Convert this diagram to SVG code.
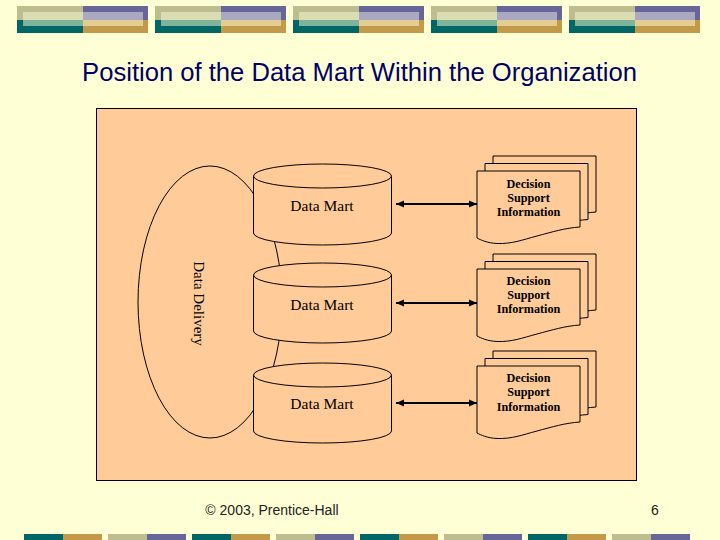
<svg xmlns="http://www.w3.org/2000/svg" width="720" height="540" viewBox="0 0 720 540">
<defs>
<style>
.title{font-family:"Liberation Sans",Arial,sans-serif;font-size:25.6px;fill:#000066}
.foot{font-family:"Liberation Sans",Arial,sans-serif;font-size:14px;fill:#222}
.lbl{font-family:"Liberation Serif","Times New Roman",serif;font-size:15.5px;fill:#000;text-anchor:middle}
.dsi{font-family:"Liberation Serif","Times New Roman",serif;font-size:12.2px;font-weight:bold;fill:#000;text-anchor:middle}
.shape{fill:#FFCC99;stroke:#000;stroke-width:1}
.conn{stroke:#000;stroke-width:2;fill:none;marker-start:url(#ah);marker-end:url(#ah)}
</style>
<marker id="ah" markerUnits="userSpaceOnUse" markerWidth="8" markerHeight="8" refX="8" refY="4" orient="auto-start-reverse">
<path d="M0,0.5 L8,4 L0,7.5 Z" fill="#000"/>
</marker>
<g id="hdr">
<rect x="0" y="6" width="66" height="14" fill="#BDBD8F"/>
<rect x="66" y="6" width="65" height="14" fill="#666699"/>
<rect x="0" y="20" width="66" height="13" fill="#006666"/>
<rect x="66" y="20" width="65" height="13" fill="#C29A4A"/>
<rect x="6" y="12" width="60" height="8" fill="#DADDB1"/>
<rect x="66" y="12" width="60" height="8" fill="#ABA9C2"/>
<rect x="6" y="20" width="60" height="6" fill="#7FB49B"/>
<rect x="66" y="20" width="60" height="6" fill="#E2CE92"/>
</g>
<g id="ftA"><rect x="0" y="534" width="39" height="6" fill="#006666"/><rect x="39" y="534" width="39" height="6" fill="#C29A4A"/></g>
<g id="ftB"><rect x="0" y="534" width="39" height="6" fill="#BDBD8F"/><rect x="39" y="534" width="39" height="6" fill="#666699"/></g>
<path id="doc" d="M0,0 H103 V56 C88,57 75,61 60,65 C45,69 35,73 20,72.5 C10,72 4,69 0,67 Z"/>
</defs>
<rect x="0" y="0" width="720" height="540" fill="#FFFFD6"/>
<g id="header">
<use href="#hdr" x="17"/><use href="#hdr" x="155"/><use href="#hdr" x="293"/><use href="#hdr" x="431"/><use href="#hdr" x="569"/>
</g>
<g id="footerbar">
<use href="#ftA" x="24"/><use href="#ftB" x="108"/><use href="#ftA" x="192"/><use href="#ftB" x="276"/>
<use href="#ftA" x="360"/><use href="#ftB" x="444"/><use href="#ftA" x="528"/><use href="#ftB" x="612"/>
</g>
<text class="title" x="359.5" y="81" text-anchor="middle">Position of the Data Mart Within the Organization</text>
<rect id="panel" x="96.5" y="108.5" width="540" height="372" fill="#FFCC99" stroke="#000" stroke-width="1"/>
<g id="delivery">
<ellipse class="shape" cx="210" cy="302" rx="72" ry="136"/>
<text class="lbl" style="font-size:15px" transform="translate(194,303.5) rotate(90)">Data Delivery</text>
</g>
<g id="mart1">
<path class="shape" d="M253.5,176 V233 A69,12 0 0 0 391.5,233 V176 Z"/>
<ellipse class="shape" cx="322.5" cy="176" rx="69" ry="12"/>
<text class="lbl" x="322" y="211">Data Mart</text>
</g>
<g id="mart2">
<path class="shape" d="M253.5,275 V331 A69,12 0 0 0 391.5,331 V275 Z"/>
<ellipse class="shape" cx="322.5" cy="275" rx="69" ry="12"/>
<text class="lbl" x="322" y="310">Data Mart</text>
</g>
<g id="mart3">
<path class="shape" d="M253.5,375 V431 A69,12 0 0 0 391.5,431 V375 Z"/>
<ellipse class="shape" cx="322.5" cy="375" rx="69" ry="12"/>
<text class="lbl" x="322" y="409">Data Mart</text>
</g>
<g id="dsi1">
<use href="#doc" class="shape" x="493" y="156"/>
<use href="#doc" class="shape" x="485" y="163.5"/>
<use href="#doc" class="shape" x="477" y="171"/>
<text class="dsi" x="528.5" y="187.5">Decision</text>
<text class="dsi" x="528.5" y="201.5">Support</text>
<text class="dsi" x="528.5" y="215.5">Information</text>
</g>
<g id="dsi2">
<use href="#doc" class="shape" x="493" y="254"/>
<use href="#doc" class="shape" x="485" y="261.5"/>
<use href="#doc" class="shape" x="477" y="269"/>
<text class="dsi" x="528.5" y="285">Decision</text>
<text class="dsi" x="528.5" y="299">Support</text>
<text class="dsi" x="528.5" y="313">Information</text>
</g>
<g id="dsi3">
<use href="#doc" class="shape" x="493" y="351"/>
<use href="#doc" class="shape" x="485" y="358.5"/>
<use href="#doc" class="shape" x="477" y="366"/>
<text class="dsi" x="528.5" y="382">Decision</text>
<text class="dsi" x="528.5" y="396">Support</text>
<text class="dsi" x="528.5" y="410.5">Information</text>
</g>
<g id="connectors">
<line class="conn" x1="396" y1="204" x2="477" y2="204"/>
<line class="conn" x1="396" y1="303" x2="477" y2="303"/>
<line class="conn" x1="396" y1="403" x2="477" y2="403"/>
</g>
<text class="foot" x="272" y="515" text-anchor="middle">© 2003, Prentice-Hall</text>
<text class="foot" x="655" y="515" text-anchor="middle">6</text>
</svg>
